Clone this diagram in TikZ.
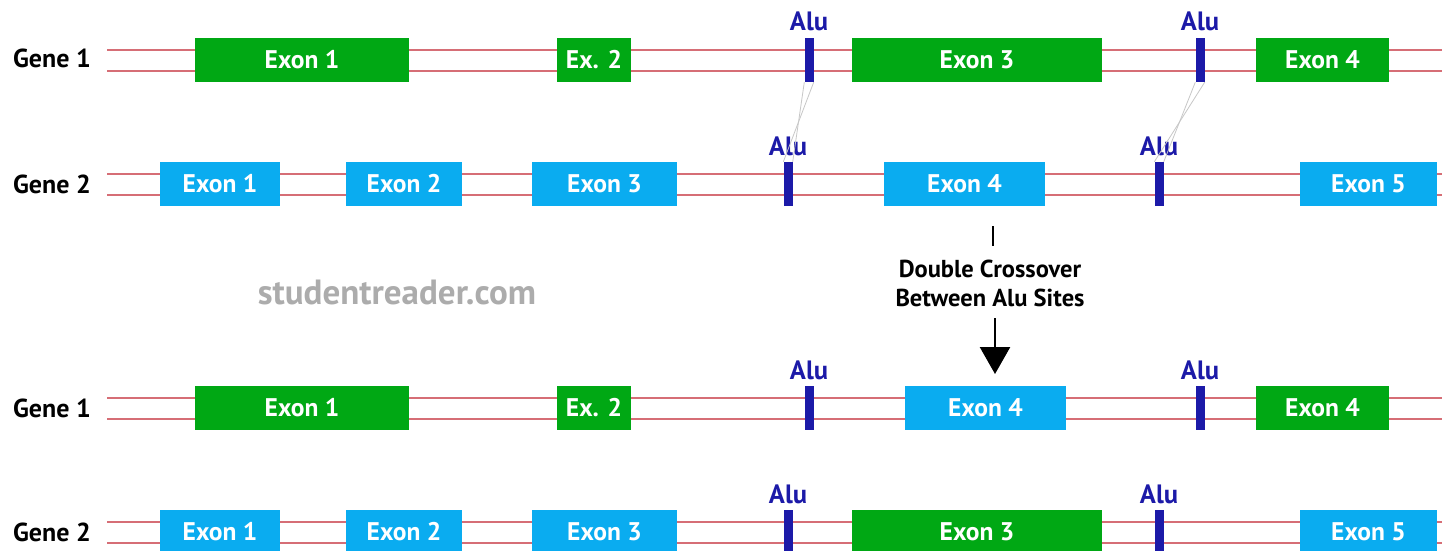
\documentclass[tikz,border=0pt]{standalone}
\usepackage{fontspec}
\setmainfont{PT Sans}
\usetikzlibrary{arrows.meta}
\definecolor{exgreen}{RGB}{0,168,20}
\definecolor{exblue}{RGB}{10,172,240}
\definecolor{strand}{RGB}{214,110,118}
\definecolor{aluc}{RGB}{28,26,168}
\definecolor{wm}{RGB}{172,172,172}
\tikzset{
  gexon/.style={fill=exgreen,draw=none,minimum height=44pt,inner sep=0pt,text=white,font=\fontsize{25.5}{28}\selectfont\bfseries},
  bexon/.style={fill=exblue,draw=none,minimum height=44pt,inner sep=0pt,text=white,font=\fontsize{25.5}{28}\selectfont\bfseries},
  alubar/.style={fill=aluc,draw=none,minimum width=9pt,minimum height=44pt,inner sep=0pt},
  alulbl/.style={text=aluc,font=\fontsize{26.5}{28}\selectfont\bfseries,inner sep=0pt},
  genelbl/.style={font=\fontsize{26}{28}\selectfont\bfseries,inner sep=0pt},
  strandline/.style={draw=strand,line width=2pt},
  xline/.style={draw=black!22,line width=0.8pt},
}
\begin{document}
\begin{tikzpicture}[x=1pt,y=-1pt]
\useasboundingbox (0,0) rectangle (1442,550);
\clip (0,0) rectangle (1442,550);
\fill[white] (0,0) rectangle (1442,550);
% strands
\foreach \yy in {60,184,408,532}{
  \coordinate (sa\yy) at (107,\yy-10.5);
  \coordinate (sb\yy) at (1442,\yy-10.5);
  \coordinate (sc\yy) at (107,\yy+10.5);
  \coordinate (sd\yy) at (1442,\yy+10.5);
  \draw[strandline] (sa\yy) -- (sb\yy);
  \draw[strandline] (sc\yy) -- (sd\yy);
}
% gene labels
\node[genelbl] (g1) at (52,58) {Gene 1};
\node[genelbl] (g2) at (52,184) {Gene 2};
\node[genelbl] (g3) at (52,408) {Gene 1};
\node[genelbl] (g4) at (52,532) {Gene 2};
% row 1
\node[gexon,minimum width=214pt] (r1e1) at (302,60) {Exon 1};
\node[gexon,minimum width=74pt] (r1e2) at (594,60) {Ex. 2};
\node[alubar] (r1a1) at (809,60) {};
\node[gexon,minimum width=250pt] (r1e3) at (977,60) {Exon 3};
\node[alubar] (r1a2) at (1200,60) {};
\node[gexon,minimum width=133pt] (r1e4) at (1322.5,60) {Exon 4};
\node[alulbl] (l1a1) at (809,21) {Alu};
\node[alulbl] (l1a2) at (1200,21) {Alu};
% row 2
\node[bexon,minimum width=120pt] (r2e1) at (220,184) {Exon 1};
\node[bexon,minimum width=116pt] (r2e2) at (404,184) {Exon 2};
\node[bexon,minimum width=145pt] (r2e3) at (604.5,184) {Exon 3};
\node[alubar] (r2a1) at (788,184) {};
\node[bexon,minimum width=161pt] (r2e4) at (964.5,184) {Exon 4};
\node[alubar] (r2a2) at (1159,184) {};
\node[bexon,minimum width=137pt] (r2e5) at (1368.5,184) {Exon 5};
\node[alulbl] (l2a1) at (788,146) {Alu};
\node[alulbl] (l2a2) at (1159,146) {Alu};
% crossover lines
\draw[xline] (r1a1.south west) -- (r2a1.north east);
\draw[xline] (r1a1.south east) -- (r2a1.north west);
\draw[xline] (r1a2.south west) -- (r2a2.north east);
\draw[xline] (r1a2.south east) -- (r2a2.north west);
% crossover label and arrow
\node[genelbl,font=\fontsize{24.5}{29}\selectfont\bfseries,align=center] (dc) at (990,283) {Double Crossover\\Between Alu Sites};
\coordinate (tk1) at (993,226);
\coordinate (tk2) at (993,246);
\draw[line width=2.5pt] (tk1) -- (tk2);
\coordinate (ar1) at (995,318);
\coordinate (ar2) at (995,374);
\draw[line width=2.5pt,-{Triangle[width=30pt,length=27pt]}] (ar1) -- (ar2);
% watermark
\node[text=wm,font=\fontsize{35}{38}\selectfont\bfseries,inner sep=0pt] (wmk) at (397,292) {studentreader.com};
% row 3
\node[gexon,minimum width=214pt] (r3e1) at (302,408) {Exon 1};
\node[gexon,minimum width=74pt] (r3e2) at (594,408) {Ex. 2};
\node[alubar] (r3a1) at (809,408) {};
\node[bexon,minimum width=161pt] (r3e3) at (985.5,408) {Exon 4};
\node[alubar] (r3a2) at (1200,408) {};
\node[gexon,minimum width=133pt] (r3e4) at (1322.5,408) {Exon 4};
\node[alulbl] (l3a1) at (809,370) {Alu};
\node[alulbl] (l3a2) at (1200,370) {Alu};
% row 4
\node[bexon,minimum width=120pt] (r4e1) at (220,532) {Exon 1};
\node[bexon,minimum width=116pt] (r4e2) at (404,532) {Exon 2};
\node[bexon,minimum width=145pt] (r4e3) at (604.5,532) {Exon 3};
\node[alubar] (r4a1) at (788,532) {};
\node[gexon,minimum width=250pt] (r4e4) at (977,532) {Exon 3};
\node[alubar] (r4a2) at (1159,532) {};
\node[bexon,minimum width=137pt] (r4e5) at (1368.5,532) {Exon 5};
\node[alulbl] (l4a1) at (788,494) {Alu};
\node[alulbl] (l4a2) at (1159,494) {Alu};
\end{tikzpicture}
\end{document}
